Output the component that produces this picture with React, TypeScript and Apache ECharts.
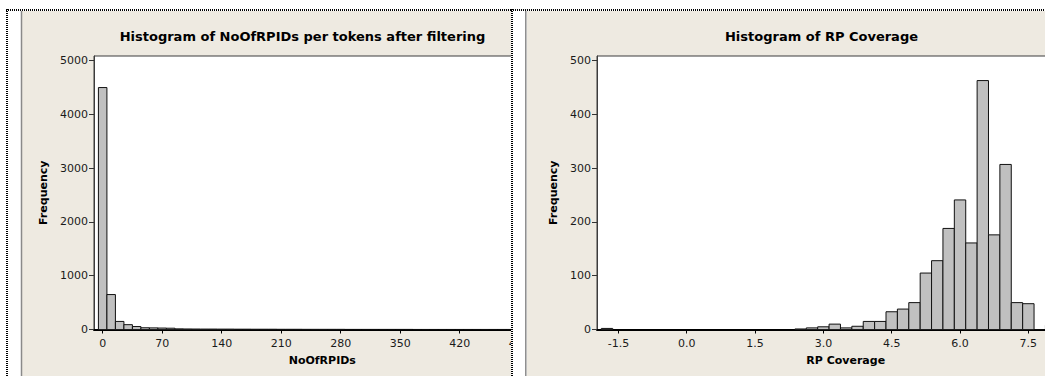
import React, { useEffect, useRef } from "react";
import * as echarts from "echarts";

// ---------- data ----------
const leftBinCenters = [
  0, 10, 20, 30, 40, 50, 60, 70, 80, 90, 100, 110, 120, 130, 140, 150, 160, 170,
  180, 190, 200, 210, 220, 230, 240, 250, 260, 270, 280, 290, 300, 310, 320, 330,
  340, 350, 360, 370, 380, 390, 400, 410, 420, 430, 440, 450, 460, 470, 480, 490,
  500, 510, 520,
];
const leftCounts = [
  4500, 650, 150, 90, 55, 32, 30, 27, 24, 12, 10, 9, 8, 8, 7, 7, 6, 6,
  5, 5, 5, 4, 4, 4, 3, 3, 3, 3, 3, 2, 2, 2, 2, 2,
  2, 2, 2, 1, 1, 1, 1, 1, 1, 1, 1, 1, 1, 1, 1, 1,
  1, 1, 1,
];
const leftXTicks = [0, 70, 140, 210, 280, 350, 420, 490];
const leftYTicks = [0, 1000, 2000, 3000, 4000, 5000];
const leftBinWidth = 10;

const rightBinCenters = [
  -1.75, 2.5, 2.75, 3.0, 3.25, 3.5, 3.75, 4.0, 4.25, 4.5, 4.75, 5.0, 5.25, 5.5,
  5.75, 6.0, 6.25, 6.5, 6.75, 7.0, 7.25, 7.5, 7.75, 8.0,
];
const rightCounts = [
  2, 1, 3, 5, 10, 3, 6, 15, 15, 33, 38, 50, 105, 128,
  188, 241, 161, 463, 176, 307, 50, 48, 0, 8,
];
const rightXTicks = [-1.5, 0, 1.5, 3.0, 4.5, 6.0, 7.5];
const rightYTicks = [0, 100, 200, 300, 400, 500];
const rightBinWidth = 0.25;

// ---------- styles ----------
const FONT = "DejaVu Sans";
const BEIGE = "#EEEAE1";
const GREY_LINE = "#8a8a8a";

function buildOption(cfg: any) {
  const data = cfg.centers.map((c: number, i: number) => [c, cfg.counts[i]]);
  const bw = cfg.binWidth;
  return {
    animation: false,
    title: {
      text: cfg.title,
      left: "center",
      top: 30,
      padding: 0,
      textStyle: { fontFamily: FONT, fontSize: 13, fontWeight: "bold", color: "#000" },
    },
    grid: {
      left: cfg.gridLeft,
      top: 56,
      width: cfg.gridWidth,
      height: 273.5,
      show: true,
      backgroundColor: "#ffffff",
      borderColor: "#3c3c3c",
      borderWidth: 1,
    },
    xAxis: {
      type: "value",
      min: cfg.xMin,
      max: cfg.xMax,
      name: cfg.xName,
      nameLocation: "middle",
      nameGap: 25,
      nameTextStyle: { fontFamily: FONT, fontSize: 11, fontWeight: "bold", color: "#000" },
      axisLine: { show: true, onZero: false, lineStyle: { color: "#000", width: 2 } },
      axisTick: { show: true, length: 4, customValues: cfg.xTicks, lineStyle: { color: "#000", width: 1 } },
      axisLabel: {
        customValues: cfg.xTicks,
        formatter: cfg.xFmt,
        fontFamily: FONT,
        fontSize: 11,
        color: "#1a1a1a",
        margin: 8,
      },
      splitLine: { show: false },
    },
    yAxis: {
      type: "value",
      min: 0,
      max: cfg.yMax,
      name: "Frequency",
      nameLocation: "middle",
      nameGap: cfg.yNameGap,
      nameTextStyle: { fontFamily: FONT, fontSize: 11, fontWeight: "bold", color: "#000" },
      axisLine: { show: true, onZero: false, lineStyle: { color: "#3c3c3c", width: 1 } },
      axisTick: { show: true, length: 5, customValues: cfg.yTicks, lineStyle: { color: "#333", width: 1 } },
      axisLabel: {
        customValues: cfg.yTicks,
        formatter: (v: number) => String(v),
        fontFamily: FONT,
        fontSize: 11,
        color: "#1a1a1a",
        margin: 6,
      },
      splitLine: { show: false },
    },
    series: [
      {
        type: "custom",
        data,
        clip: true,
        renderItem: (params: any, api: any) => {
          const c = api.value(0);
          const v = api.value(1);
          const p0 = api.coord([c - bw / 2, v]);
          const p1 = api.coord([c + bw / 2, 0]);
          return {
            type: "rect",
            shape: { x: p0[0], y: p0[1], width: p1[0] - p0[0], height: p1[1] - p0[1] },
            style: { fill: "#c0c0c0", stroke: "#111", lineWidth: 1 },
          };
        },
      },
    ],
    graphic: cfg.graphic,
  };
}

function Chart({ option, width, height }: any) {
  const ref = useRef<HTMLDivElement>(null);
  useEffect(() => {
    if (!ref.current) return;
    const chart = echarts.init(ref.current, undefined, { renderer: "svg" });
    chart.setOption(option);
    return () => chart.dispose();
  }, [option]);
  return <div ref={ref} style={{ position: "absolute", left: 0, top: 0, width, height }} />;
}

const dotted = { stroke: "#000", lineWidth: 2, lineDash: [1, 1] };

const leftOption = buildOption({
  title: "Histogram of NoOfRPIDs per tokens after filtering",
  centers: leftBinCenters,
  counts: leftCounts,
  binWidth: leftBinWidth,
  xMin: -10.2,
  xMax: 527,
  xTicks: leftXTicks,
  xFmt: (v: number) => String(v),
  xName: "NoOfRPIDs",
  yMax: 5087,
  yTicks: leftYTicks,
  yNameGap: 41,
  gridLeft: 94,
  gridWidth: 456.6,
  graphic: [
    { type: "line", shape: { x1: 6, y1: 10, x2: 605, y2: 10 }, style: dotted },
    { type: "line", shape: { x1: 7, y1: 9, x2: 7, y2: 376 }, style: dotted },
    { type: "line", shape: { x1: 21.5, y1: 11, x2: 21.5, y2: 376 }, style: { stroke: GREY_LINE, lineWidth: 1.5 } },
  ],
});

const rightOption = buildOption({
  title: "Histogram of RP Coverage",
  centers: rightBinCenters,
  counts: rightCounts,
  binWidth: rightBinWidth,
  xMin: -1.97,
  xMax: 8.95,
  xTicks: rightXTicks,
  xFmt: (v: number) => v.toFixed(1),
  xName: "RP Coverage",
  yMax: 508.7,
  yTicks: rightYTicks,
  yNameGap: 38,
  gridLeft: 86,
  gridWidth: 497.4,
  graphic: [
    { type: "line", shape: { x1: 0, y1: 10, x2: 621, y2: 10 }, style: dotted },
    { type: "line", shape: { x1: 1, y1: 9, x2: 1, y2: 376 }, style: dotted },
    { type: "line", shape: { x1: 14.8, y1: 11, x2: 14.8, y2: 376 }, style: { stroke: GREY_LINE, lineWidth: 1.5 } },
  ],
});

export default function App() {
  return (
    <div
      style={{
        position: "fixed",
        left: 0,
        top: 0,
        width: 1045,
        height: 376,
        overflow: "hidden",
        background: "#fff",
      }}
    >
      <div style={{ position: "absolute", left: 0, top: 0, width: 511, height: 376, overflow: "hidden", background: "#fff" }}>
        <div style={{ position: "absolute", left: 22, top: 11, width: 600, height: 365, background: BEIGE }} />
        <Chart option={leftOption} width={605} height={376} />
      </div>
      <div style={{ position: "absolute", left: 511, top: 0, width: 534, height: 376, overflow: "hidden", background: "#fff" }}>
        <div style={{ position: "absolute", left: 16, top: 11, width: 620, height: 365, background: BEIGE }} />
        <Chart option={rightOption} width={621} height={376} />
      </div>
    </div>
  );
}
